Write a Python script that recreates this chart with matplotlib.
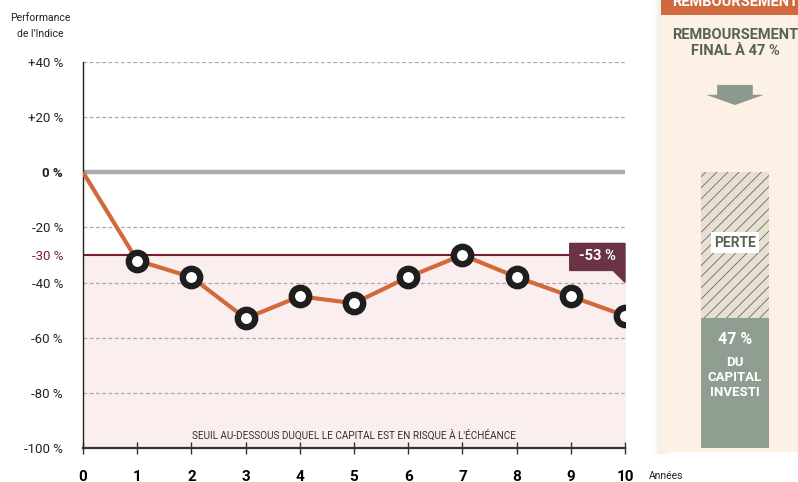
import numpy as np
import matplotlib.pyplot as plt
from matplotlib.patches import Rectangle, Polygon

plt.rcParams['font.family'] = ['Roboto', 'DejaVu Sans']

# data
years = [0, 1, 2, 3, 4, 5, 6, 7, 8, 9, 10]
perf = [0, -32, -38, -53, -45, -47.5, -38, -30, -38, -45, -52]
y_ticks = [40, 20, 0, -20, -30, -40, -60, -80, -100]
y_labels = ["+40 %", "+20 %", "0 %", "-20 %", "-30 %", "-40 %", "-60 %", "-80 %", "-100 %"]
grid_levels = [40, 20, -20, -40, -60, -80]
barrier = -30
final_label = "-53 %"
remb = 47

orange = "#d2693a"
dark_red = "#7a1f2a"
maroon = "#6b3346"
green_txt = "#56654f"
green_bar = "#8f9e90"

W, H = 798, 482
fig = plt.figure(figsize=(W / 100, H / 100), dpi=100)
ax = fig.add_axes([83 / W, (H - 448) / H, (625 - 83) / W, (448 - 62) / H])
ax.set_xlim(0, 10)
ax.set_ylim(-100, 40)
for s in ["top", "right"]:
    ax.spines[s].set_visible(False)
ax.spines["left"].set_color("#222222")
ax.spines["left"].set_linewidth(1.0)
ax.spines["bottom"].set_color("#333333")
ax.spines["bottom"].set_linewidth(1.6)

# risk zone
ax.fill_between([0, 10], -100, barrier, color="#fbeeee", zorder=0)
for g in grid_levels:
    ax.axhline(g, color="#aaaaaa", lw=0.9, ls=(0, (3, 2)), zorder=1)
ax.axhline(0, color="#aaaaaa", lw=3.2, zorder=2)
ax.axhline(barrier, color=dark_red, lw=1.5, zorder=2)

ax.plot(years, perf, color=orange, lw=3, zorder=3, solid_capstyle="butt")
ax.plot(years[1:], perf[1:], ls="none", marker="o", ms=12.5, mfc="white",
        mec="#1e1e1e", mew=4.6, zorder=4)

# -53 % tag
tx0, tx1 = 8.98, 10
ty_top, ty_bot = barrier + 4.2, barrier - 5.6
ax.add_patch(Polygon([[tx0, ty_top], [tx1, ty_top], [tx1, ty_bot - 4.3],
                      [tx1 - 0.22, ty_bot], [tx0, ty_bot]],
                     closed=True, color=maroon, zorder=5, clip_on=False))
ax.text((tx0 + tx1) / 2, (ty_top + ty_bot) / 2 + 0.2, final_label, color="white",
        fontsize=10.5, fontweight="bold", ha="center", va="center", zorder=6)

ax.text(5, -95.5, "SEUIL AU-DESSOUS DUQUEL LE CAPITAL EST EN RISQUE À L'ÉCHÉANCE",
        fontsize=7.2, color="#333333", ha="center", va="center")

ax.set_yticks(y_ticks)
ax.set_yticklabels(y_labels)
ax.tick_params(axis="y", length=0, pad=14.4, labelsize=9.5, labelcolor="#222222")
for lab, v in zip(ax.get_yticklabels(), y_ticks):
    if v == 0:
        lab.set_fontweight("bold")
    if v == barrier:
        lab.set_color(dark_red)

ax.set_xticks(years)
ax.set_xticklabels([str(y) for y in years])
ax.tick_params(axis="x", direction="inout", length=9, width=1, color="#333333",
               pad=11, labelsize=11)
for lab in ax.get_xticklabels():
    lab.set_fontweight("bold")

ax.text(10.45, -110, "Années", fontsize=7.5, color="#222222", ha="left", va="center")
fig.text(40 / W, 1 - 26 / H, "Performance\nde l’Indice", fontsize=7.5, ha="center",
         va="center", color="#222222", linespacing=1.75)

# right panel, same vertical scale as the chart
ax2 = fig.add_axes([661 / W, (H - 448) / H, (W - 661) / W, (448 - 62) / H])
ax2.set_xlim(0, 1)
ax2.set_ylim(-100, 40)
ax2.axis("off")
top = 40 + 62 / 2.757
for i, a in enumerate([0.04, 0.05, 0.06]):
    ax2.add_patch(Rectangle((-0.06 + i * 0.02, -102), 0.1, top + 102, color="#b09a8a",
                            alpha=a, lw=0, clip_on=False, zorder=0))
ax2.add_patch(Rectangle((0, -101.5), 1, top + 101.5, color="#fdf0e4", lw=0,
                        clip_on=False, zorder=1))
ax2.add_patch(Rectangle((0, top - 5.5), 1, 5.5, color="#d0693d", lw=0,
                        clip_on=False, zorder=2))
ax2.text(0.54, top - 0.9, "REMBOURSEMENT", color="white", fontsize=10.5,
         fontweight="bold", ha="center", va="center", zorder=3, clip_on=False)
ax2.text(0.54, 47, "REMBOURSEMENT\nFINAL À 47 %", color=green_txt, fontsize=10.5,
         fontweight="bold", ha="center", va="center", linespacing=1.2, zorder=3)
ax2.add_patch(Polygon([[0.41, 31.7], [0.67, 31.7], [0.67, 28.1], [0.75, 28.1],
                       [0.54, 24.4], [0.33, 28.1], [0.41, 28.1]],
                      closed=True, color="#8a9a8c", lw=0, zorder=3))

plt.rcParams['hatch.color'] = "#6e6a62"
plt.rcParams['hatch.linewidth'] = 0.6
ax2.bar(0.54, 100 - remb, width=0.496, bottom=-100 + remb, color="#e6dfd2",
        hatch="///", lw=0, zorder=3)
ax2.bar(0.54, remb, width=0.496, bottom=-100, color=green_bar, lw=0, zorder=3)
ax2.text(0.54, -25.5, "PERTE", color=green_txt, fontsize=10, fontweight="bold",
         ha="center", va="center", zorder=5,
         bbox=dict(facecolor="white", edgecolor="none", pad=2.5))
ax2.text(0.54, -60.5, "47 %", color="white", fontsize=11.5, fontweight="bold",
         ha="center", va="center", zorder=5)
ax2.text(0.54, -74.6, "DU\nCAPITAL\nINVESTI", color="white", fontsize=9.5,
         fontweight="bold", ha="center", va="center", linespacing=1.2, zorder=5)

fig.savefig("out.png", dpi=100)
plt.close(fig)
